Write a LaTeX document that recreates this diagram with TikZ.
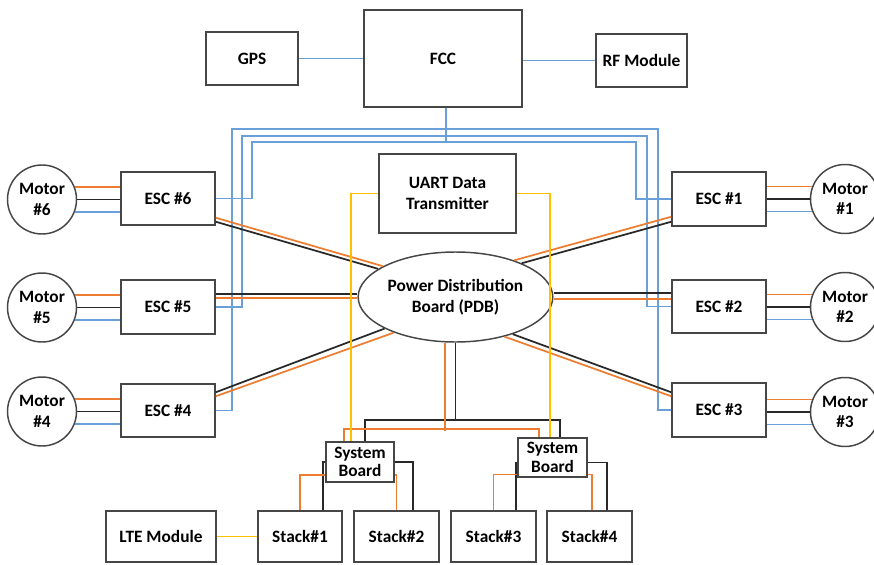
\documentclass[tikz,border=0pt]{standalone}
\usepackage{fontspec}
\setmainfont{Carlito}
\usetikzlibrary{shapes.geometric,calc}

\definecolor{sigblue}{RGB}{105,160,218}
\definecolor{pwrorange}{RGB}{237,125,49}
\definecolor{datyellow}{RGB}{255,192,0}
\definecolor{wireblack}{RGB}{40,40,40}
\definecolor{edgegray}{RGB}{70,70,70}

\tikzset{every picture/.style={line width=0.75pt}}
\tikzset{
  blockbox/.style 2 args={rectangle, draw=edgegray, line width=1.1pt, fill=white, inner sep=0pt,
    minimum width=#1*0.75pt, minimum height=#2*0.75pt, align=center,
    font=\fontsize{13}{15.5}\selectfont\bfseries},
  motor/.style={circle, draw=edgegray, line width=1.1pt, fill=white, inner sep=0pt,
    minimum size=51.75pt, align=center, font=\fontsize{13}{15.5}\selectfont\bfseries},
  pdbnode/.style={ellipse, draw=edgegray, line width=1.1pt, fill=white, inner sep=0pt,
    minimum width=146pt, minimum height=67.5pt, align=center,
    font=\fontsize{13}{15.5}\selectfont\bfseries},
  sig/.style={draw=sigblue, line width=1.1pt},
  pwr/.style={draw=pwrorange, line width=1.3pt},
  gnd/.style={draw=wireblack, line width=1.3pt},
  dat/.style={draw=datyellow, line width=1.1pt}
}

\begin{document}
\begin{tikzpicture}[x=0.75pt,y=0.75pt,yscale=-1,xscale=1]
\useasboundingbox (0,0) rectangle (874,564);

%Shape: Rectangle -- flight controller and radios
\node[blockbox={92}{53}] (gps) at (252,58.5) {GPS};
\node[blockbox={158}{97}] (fcc) at (443,58.5) {FCC};
\node[blockbox={91}{53}] (rf) at (641.5,60.5) {RF Module};
\node[blockbox={137}{79}] (uart) at (447.5,193.5) {UART Data\\Transmitter};

%Shape: Ellipse
\node[pdbnode] (pdb) at (455.5,297) {Power Distribution\\Board (PDB)};

%Shape: Rectangle -- speed controllers
\node[blockbox={94}{53}] (esc6) at (168,198.5) {ESC \#6};
\node[blockbox={94}{54}] (esc5) at (168,307) {ESC \#5};
\node[blockbox={94}{53}] (esc4) at (168,410.5) {ESC \#4};
\node[blockbox={94}{54}] (esc1) at (719,199) {ESC \#1};
\node[blockbox={94}{53}] (esc2) at (719,306.5) {ESC \#2};
\node[blockbox={94}{54}] (esc3) at (719,410) {ESC \#3};

%Shape: Circle -- motors
\node[motor] (m6) at (42,199.5) {Motor\\\#6};
\node[motor] (m5) at (42,307.5) {Motor\\\#5};
\node[motor] (m4) at (42,411.5) {Motor\\\#4};
\node[motor] (m1) at (845,199) {Motor\\\#1};
\node[motor] (m2) at (845,307) {Motor\\\#2};
\node[motor] (m3) at (845,412) {Motor\\\#3};

%Shape: Rectangle -- boards and stacks
\node[blockbox={68}{40}, font=\fontsize{13}{14}\selectfont\bfseries] (sbl) at (360,462) {System\\Board};
\node[blockbox={69}{39}, font=\fontsize{13}{14}\selectfont\bfseries] (sbr) at (552.5,457.5) {System\\Board};
\node[blockbox={110}{51}] (lte) at (161,536.5) {LTE Module};
\node[blockbox={84}{51}] (st1) at (300,536.5) {Stack\#1};
\node[blockbox={85}{51}] (st2) at (396.5,536.5) {Stack\#2};
\node[blockbox={85}{51}] (st3) at (493.5,536.5) {Stack\#3};
\node[blockbox={85}{51}] (st4) at (589.5,536.5) {Stack\#4};

% Signal lines
\draw[sig] (gps) -- (fcc);
\draw[sig] (rf.west) -- (rf.west -| fcc.east);
\draw[sig] ($(fcc.south)+(3,0)$) -- ++(0,35);
\draw[sig] (esc6.east) -| (252,142) -- (636,142) |- (esc1.west);
\draw[sig] (esc5.east) -| (242,136) -- (647,136) |- (esc2.west);
\draw[sig] (esc4.east) -| (232,129) -- (658,129) |- (esc3.west);

% Motor phases
\foreach \m/\e in {m6/esc6,m5/esc5,m4/esc4}{
  \draw[pwr] (\m.21) -- (\m.21 -| \e.west);
  \draw[gnd] (\m.east) -- (\m.east -| \e.west);
  \draw[sig] (\m.-21) -- (\m.-21 -| \e.west);
}
\foreach \m/\e in {m1/esc1,m2/esc2,m3/esc3}{
  \draw[pwr] (\m.159) -- (\m.159 -| \e.east);
  \draw[gnd] (\m.west) -- (\m.west -| \e.east);
  \draw[sig] (\m.201) -- (\m.201 -| \e.east);
}

% PDB feeds
\draw[pwr] ($(esc6.south east)+(0,-8)$) -- (pdb.157);
\draw[gnd] ($(esc6.south east)+(0,-4)$) -- (pdb.160);
\draw[gnd] ($(esc5.east)+(0,-13)$) -- (pdb.west |- 0,294);
\draw[pwr] ($(esc5.east)+(0,-9)$) -- (pdb.west |- 0,298);
\draw[gnd] ($(esc4.north east)+(0,9)$) -- (pdb.204);
\draw[pwr] ($(esc4.north east)+(0,13)$) -- (pdb.210);
\draw[pwr] ($(esc1.south west)+(0,-10)$) -- (pdb.32);
\draw[gnd] ($(esc1.south west)+(0,-5)$) -- (pdb.27);
\draw[gnd] ($(esc2.west)+(0,-13.5)$) -- (pdb.east |- 0,293);
\draw[pwr] ($(esc2.west)+(0,-7.5)$) -- (pdb.east |- 0,299);
\draw[gnd] ($(esc3.north west)+(0,10)$) -- (pdb.327);
\draw[pwr] ($(esc3.north west)+(0,14)$) -- (pdb.321);

% Power tree to system boards
\draw[gnd] (pdb.south) -- (pdb.south |- 0,421);
\draw[gnd] ($(sbl.north)+(5,0)$) -- ++(0,-21) -| ($(sbr.north)+(7.5,0)$);
\draw[pwr] ($(pdb.south)+(-10.5,0)$) -- ($(pdb.south)+(-10.5,88)$);
\draw[pwr] ($(sbl.north)+(-16,0)$) -- ++(0,-12) -| ($(sbr.north)+(-13.5,0)$);

% Data links
\draw[dat] (uart.west) -| ($(sbl.north)+(-9,0)$);
\draw[dat] (uart.east) -| ($(sbr.north)+(-2.5,0)$);
\draw[dat] (lte) -- (st1);

% System boards to stacks
\draw[gnd] (sbl.west) -| ($(st1.north)+(23,0)$);
\draw[pwr] ($(sbl.west)+(0,13)$) -| (st1.north);
\draw[gnd] (sbl.east) -| ($(st2.north)+(16.5,0)$);
\draw[pwr] ($(sbl.east)+(0,13)$) -| (st2.north);
\draw[gnd] ($(sbr.west)+(0,5)$) -| ($(st3.north)+(22.5,0)$);
\draw[pwr] ($(sbr.west)+(0,17)$) -| (st3.north);
\draw[gnd] ($(sbr.east)+(0,5)$) -| ($(st4.north)+(17.5,0)$);
\draw[pwr] ($(sbr.east)+(0,17)$) -| ($(st4.north)+(2.5,0)$);

\end{tikzpicture}
\end{document}
